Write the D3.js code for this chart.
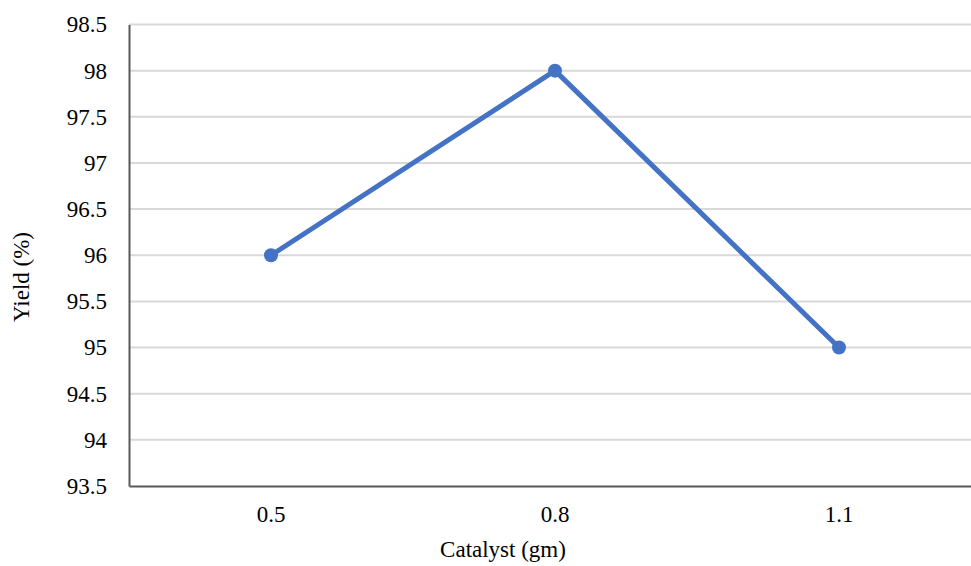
<!DOCTYPE html>
<html>
<head>
<meta charset="utf-8">
<script src="https://cdn.jsdelivr.net/npm/d3@7/dist/d3.min.js"></script>
<style>
  html, body { margin: 0; padding: 0; background: #fff; }
  svg { display: block; }
</style>
</head>
<body>
<svg id="chart" width="971" height="566" font-family="Liberation Serif, Times New Roman, serif"></svg>
<script>
// Yield versus catalyst amount
const categories = ["0.5", "0.8", "1.1"];
const yieldValues = [96, 98, 95];
const yTicks = [93.5, 94, 94.5, 95, 95.5, 96, 96.5, 97, 97.5, 98, 98.5];

const FONT = "Liberation Serif, Times New Roman, serif";
const svg = d3.select("#chart");
const margin = { left: 129, top: 24.5, right: 981, bottom: 486 };

const x = d3.scaleBand().domain(categories).range([margin.left, margin.right]);
const y = d3.scaleLinear().domain([93.5, 98.5]).range([margin.bottom, margin.top]);

// horizontal gridlines
svg.append("g")
  .selectAll("line")
  .data(yTicks.slice(1))
  .join("line")
  .attr("x1", margin.left).attr("x2", margin.right)
  .attr("y1", d => y(d)).attr("y2", d => y(d))
  .attr("stroke", "#d9d9d9").attr("stroke-width", 2);

// y axis
const yAxis = svg.append("g")
  .attr("transform", `translate(${margin.left},0)`)
  .call(d3.axisLeft(y).tickValues(yTicks).tickSize(0).tickPadding(22).tickFormat(d => String(d)));
yAxis.attr("font-family", FONT).attr("font-size", 23);
yAxis.select(".domain").attr("stroke", "#595959").attr("stroke-width", 2);
yAxis.selectAll("text").attr("fill", "#000");

// x axis
const xAxis = svg.append("g")
  .attr("transform", `translate(0,${margin.bottom})`)
  .call(d3.axisBottom(x).tickSize(0).tickPadding(20));
xAxis.attr("font-family", FONT).attr("font-size", 23);
xAxis.select(".domain").attr("stroke", "#595959").attr("stroke-width", 2);
xAxis.selectAll("text").attr("fill", "#000");

// series line
const cx = c => x(c) + x.bandwidth() / 2;
const pts = categories.map((c, i) => [c, yieldValues[i]]);
svg.append("path")
  .datum(pts)
  .attr("fill", "none")
  .attr("stroke", "#4472c4")
  .attr("stroke-width", 5)
  .attr("stroke-linejoin", "round")
  .attr("d", d3.line().x(d => cx(d[0])).y(d => y(d[1])));

svg.append("g")
  .selectAll("circle")
  .data(pts)
  .join("circle")
  .attr("cx", d => cx(d[0]))
  .attr("cy", d => y(d[1]))
  .attr("r", 7)
  .attr("fill", "#4472c4");

// axis titles
svg.append("text")
  .attr("x", 503).attr("y", 557)
  .attr("text-anchor", "middle")
  .attr("font-family", FONT)
  .attr("font-size", 23)
  .text("Catalyst (gm)");

svg.append("text")
  .attr("transform", "translate(29,277) rotate(-90)")
  .attr("text-anchor", "middle")
  .attr("font-family", FONT)
  .attr("font-size", 23)
  .text("Yield (%)");
</script>
</body>
</html>
